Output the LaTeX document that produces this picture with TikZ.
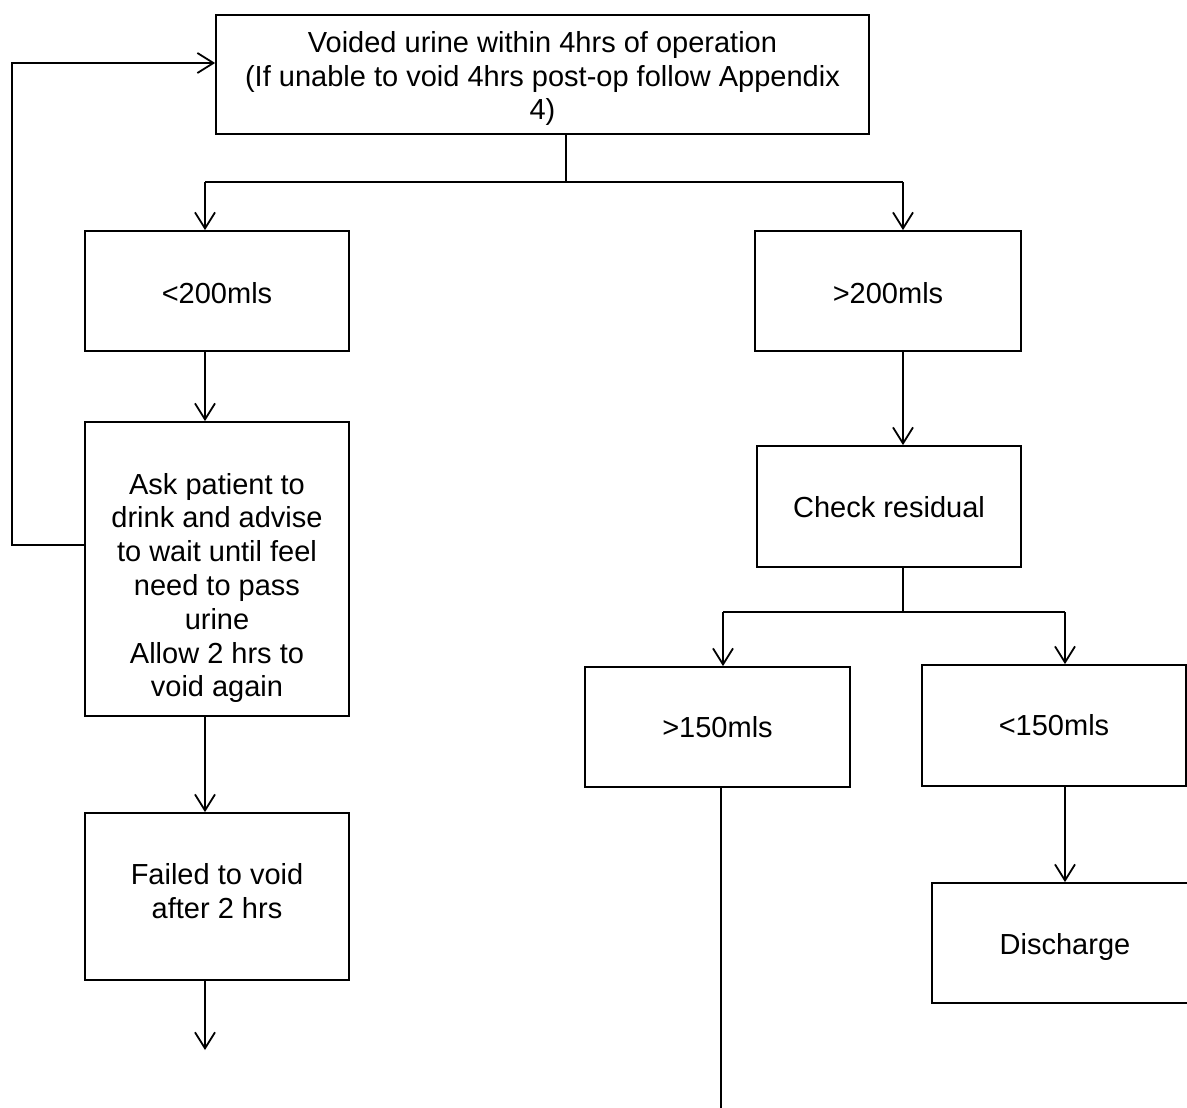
\documentclass[tikz,border=0pt]{standalone}
\usepackage{fontspec}
\setmainfont{Liberation Sans}
\usetikzlibrary{arrows.meta}
\begin{document}
\begin{tikzpicture}[x=1pt,y=-1pt,
  every node/.style={font=\fontsize{29}{33.8}\selectfont},
  box/.style={draw, line width=1.8pt, inner sep=0pt},
  txt/.style={inner sep=0pt, align=center},
  link/.style={line width=1.8pt},
  arr/.style={link, -{Straight Barb[length=16pt,width=20pt,line width=1.8pt]}}]
  \useasboundingbox (0,0) rectangle (1187,1108);
  \clip (0,0) rectangle (1187,1108);

  % boxes (centre, size)
  \node[box, minimum width=653, minimum height=119] (top) at (542.5,74.5) {};
  \node[box, minimum width=264, minimum height=120] (lt) at (217,291) {};
  \node[box, minimum width=266, minimum height=120] (gt) at (888,291) {};
  \node[box, minimum width=264, minimum height=294] (ask) at (217,569) {};
  \node[box, minimum width=264, minimum height=167] (fail) at (217,896.5) {};
  \node[box, minimum width=264, minimum height=121] (chk) at (889,506.5) {};
  \node[box, minimum width=265, minimum height=120] (hi) at (717.5,727) {};
  \node[box, minimum width=264, minimum height=121] (lo) at (1054,725.5) {};
  \node[box, minimum width=266, minimum height=120] (dis) at (1065,943) {};

  % box texts
  \node[txt] (topT) at ([yshift=-4pt]top.center)
    {Voided urine within 4hrs of operation\\(If unable to void 4hrs post-op follow Appendix\\4)};
  \node[txt] (ltT) at ([yshift=-2pt]lt.center) {<200mls};
  \node[txt] (gtT) at ([yshift=-2pt]gt.center) {>200mls};
  \node[txt] (askT) at ([yshift=-19pt]ask.center)
    {Ask patient to\\drink and advise\\to wait until feel\\need to pass\\urine\\Allow 2 hrs to\\void again};
  \node[txt] (failT) at ([yshift=5pt]fail.center) {Failed to void\\after 2 hrs};
  \node[txt] (chkT) at ([yshift=-1pt]chk.center) {Check residual};
  \node[txt] (hiT) at (hi.center) {>150mls};
  \node[txt] (loT) at (lo.center) {<150mls};
  \node[txt] (disT) at ([yshift=-4pt]dis.center) {Discharge};

  % connector points
  \coordinate (s1) at (566,182);
  \coordinate (b1l) at (205,182);
  \coordinate (b1r) at (903,182);
  \coordinate (s2) at (903,612);
  \coordinate (b2l) at (723,612);
  \coordinate (b2r) at (1065,612);
  \coordinate (loopB) at (12,545);
  \coordinate (loopT) at (12,63);
  \coordinate (failEnd) at (205,1050);
  \coordinate (hiEnd) at (721,1110);

  % first split
  \draw[link] (top.south -| s1) -- (s1);
  \draw[link] (b1l) -- (b1r);
  \draw[arr] (b1l) -- (b1l |- lt.north);
  \draw[arr] (b1r) -- (b1r |- gt.north);

  % left branch
  \draw[arr] (lt.south -| b1l) -- (b1l |- ask.north);
  \draw[arr] (ask.south -| b1l) -- (b1l |- fail.north);
  \draw[arr] (fail.south -| b1l) -- (failEnd);
  \draw[arr] (ask.west |- loopB) -- (loopB) -- (loopT) -- (top.west |- loopT);

  % right branch
  \draw[arr] (gt.south -| b1r) -- (b1r |- chk.north);
  \draw[link] (chk.south -| s2) -- (s2);
  \draw[link] (b2l) -- (b2r);
  \draw[arr] (b2l) -- (b2l |- hi.north);
  \draw[arr] (b2r) -- (b2r |- lo.north);
  \draw[link] (hi.south -| hiEnd) -- (hiEnd);
  \draw[arr] (lo.south -| b2r) -- (b2r |- dis.north);
\end{tikzpicture}
\end{document}
